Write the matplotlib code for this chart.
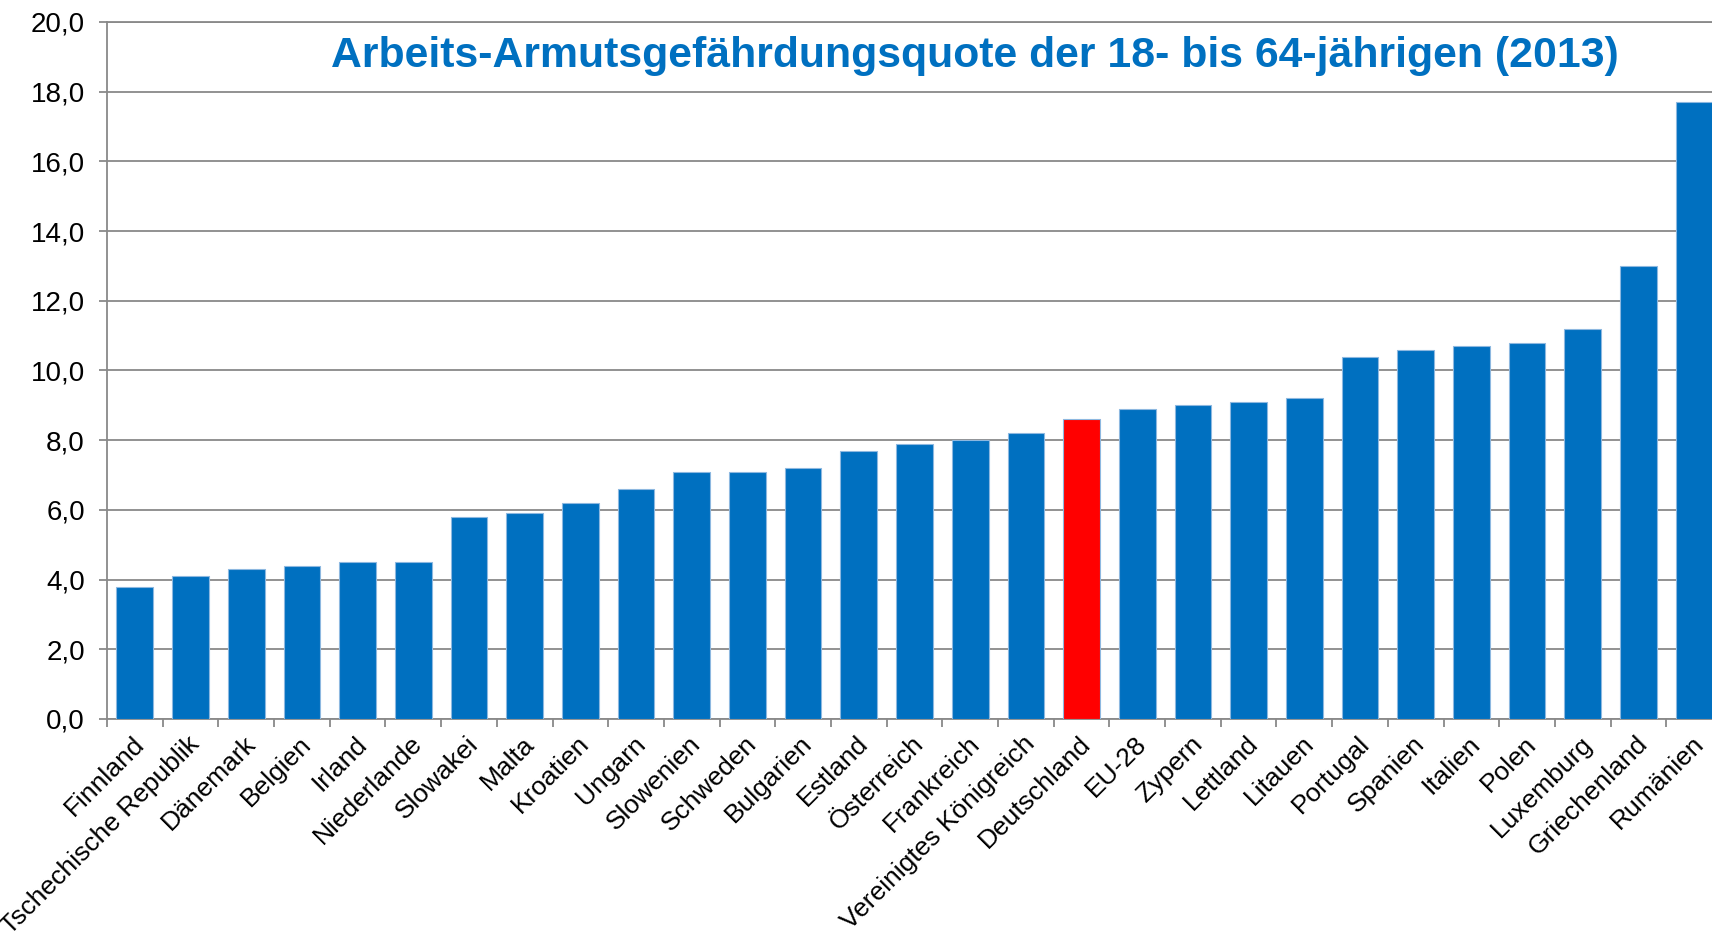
import matplotlib
matplotlib.use('Agg')
import matplotlib.pyplot as plt
import matplotlib.transforms as mtransforms
from matplotlib.ticker import FuncFormatter

plt.rcParams['font.family'] = ['Liberation Sans', 'DejaVu Sans']

# Daten: Arbeits-Armutsgefährdungsquote 2013 (in %)
laender = ['Finnland', 'Tschechische Republik', 'Dänemark', 'Belgien', 'Irland',
           'Niederlande', 'Slowakei', 'Malta', 'Kroatien', 'Ungarn', 'Slowenien',
           'Schweden', 'Bulgarien', 'Estland', 'Österreich', 'Frankreich',
           'Vereinigtes Königreich', 'Deutschland', 'EU-28', 'Zypern', 'Lettland',
           'Litauen', 'Portugal', 'Spanien', 'Italien', 'Polen', 'Luxemburg',
           'Griechenland', 'Rumänien']
quote = [3.8, 4.1, 4.3, 4.4, 4.5, 4.5, 5.8, 5.9, 6.2, 6.6, 7.1,
         7.1, 7.2, 7.7, 7.9, 8.0, 8.2, 8.6, 8.9, 9.0, 9.1,
         9.2, 10.4, 10.6, 10.7, 10.8, 11.2, 13.0, 17.7]
hervorgehoben = 'Deutschland'

blau = '#0070C0'
rot = '#FF0000'
grau = '#898989'

farben = [rot if land == hervorgehoben else blau for land in laender]

fig = plt.figure(figsize=(17.12, 9.36), dpi=100)
# Achse reicht absichtlich etwas über den rechten Bildrand hinaus (wie im Original)
ax = fig.add_axes([107 / 1712, 217 / 936, 1615 / 1712, 697 / 936])

x = list(range(len(laender)))
ax.bar(x, quote, width=0.66, color=farben, edgecolor='#8DB8E0', linewidth=0.8, zorder=3)

ax.set_xlim(-0.5, len(laender) - 0.5)
ax.set_ylim(0, 20)
ax.set_yticks(range(0, 21, 2))
ax.yaxis.set_major_formatter(FuncFormatter(lambda v, p: f'{v:.1f}'.replace('.', ',')))
ax.grid(axis='y', color=grau, linewidth=1.3, zorder=0)

for s in ['right']:
    ax.spines[s].set_visible(False)
for s in ['left', 'bottom', 'top']:
    ax.spines[s].set_color(grau)
    ax.spines[s].set_linewidth(1.3)

ax.tick_params(axis='y', labelsize=20, length=6, width=1.3, color=grau, pad=10)

# Striche zwischen den Balken, Beschriftungen mittig
ax.set_xticks(x)
ax.set_xticklabels(laender, rotation=45, ha='right', va='top', rotation_mode='anchor', fontsize=19)
ax.set_xticks([i - 0.5 for i in range(len(laender) + 1)], minor=True)
ax.tick_params(axis='x', which='major', length=0, pad=9)
ax.tick_params(axis='x', which='minor', length=6, width=1.3, color=grau)

verschiebung = mtransforms.ScaledTranslation(-3 / 100, 0, fig.dpi_scale_trans)
for lbl in ax.get_xticklabels():
    lbl.set_transform(lbl.get_transform() + verschiebung)

fig.text(975 / 1712, 869 / 936, 'Arbeits-Armutsgefährdungsquote der 18- bis 64-jährigen (2013)',
         ha='center', va='baseline', fontsize=30.8, fontweight='bold', color=blau)

plt.savefig('out.png', dpi=100)
